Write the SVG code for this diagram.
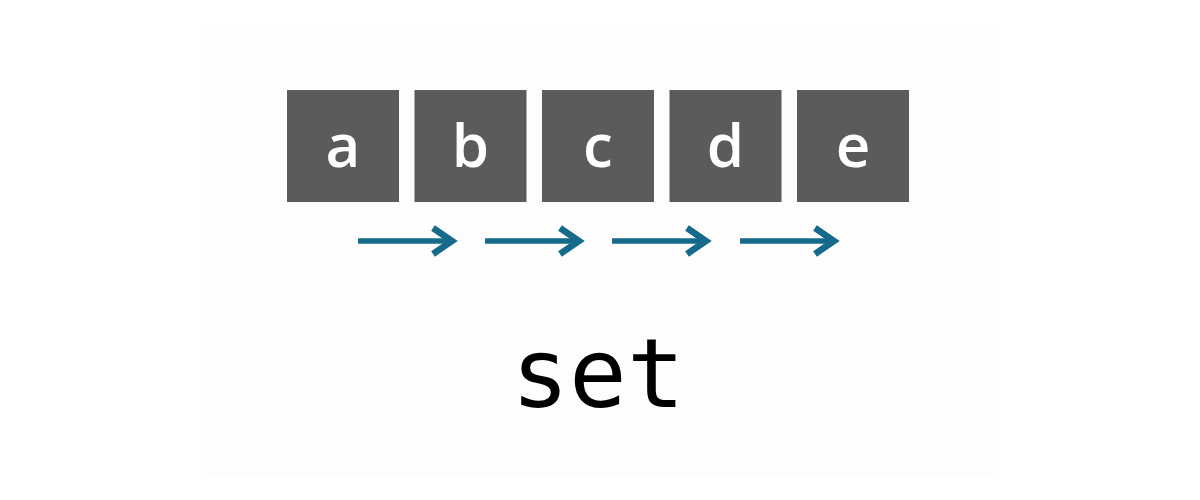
<svg xmlns="http://www.w3.org/2000/svg" width="1200" height="500" viewBox="0 0 1200 500">
  <style>
    .box { fill: #5b5b5b; }
    .lbl { fill: #ffffff; font-family: "Open Sans", "Noto Sans", sans-serif; font-weight: 600; font-size: 60px; text-anchor: middle; }
    .arr { fill: none; stroke: #166a8a; stroke-width: 5.5; stroke-linecap: butt; stroke-linejoin: miter; }
    .head { fill: none; stroke: #166a8a; stroke-width: 6.5; stroke-linecap: butt; stroke-linejoin: miter; }
    .title { fill: #000000; font-family: "DejaVu Sans Mono", "Liberation Mono", monospace; font-size: 96px; text-anchor: middle; }
  </style>
  <rect x="0" y="0" width="1200" height="500" fill="#ffffff"/>
  <rect x="207" y="25" width="786" height="450" fill="#fdfdfd"/>
  <g id="node-a"><rect class="box" x="287" y="90" width="112" height="112"/><text class="lbl" x="343" y="167">a</text></g>
  <g id="node-b"><rect class="box" x="414.5" y="90" width="112" height="112"/><text class="lbl" x="470.5" y="167">b</text></g>
  <g id="node-c"><rect class="box" x="542" y="90" width="112" height="112"/><text class="lbl" x="598" y="167">c</text></g>
  <g id="node-d"><rect class="box" x="669.5" y="90" width="112" height="112"/><text class="lbl" x="725.5" y="167">d</text></g>
  <g id="node-e"><rect class="box" x="797" y="90" width="112" height="112"/><text class="lbl" x="853" y="167">e</text></g>
  <g id="connectors">
    <path class="arr" d="M358 241 H452"/><path class="head" d="M433 228 L452 241 L433 254"/>
    <path class="arr" d="M485 241 H579"/><path class="head" d="M560 228 L579 241 L560 254"/>
    <path class="arr" d="M612 241 H706"/><path class="head" d="M687 228 L706 241 L687 254"/>
    <path class="arr" d="M740 241 H834"/><path class="head" d="M815 228 L834 241 L815 254"/>
  </g>
  <text class="title" x="598" y="407">set</text>
</svg>
